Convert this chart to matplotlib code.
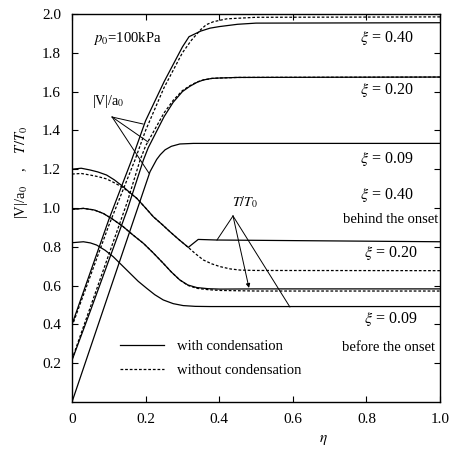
import matplotlib.pyplot as plt

plt.rcParams['font.family'] = ['Liberation Serif', 'DejaVu Serif']
plt.rcParams['mathtext.fontset'] = 'stix'

# velocity |V|/a0 profiles
v40_eta = [0, 0.05, 0.10, 0.162, 0.20, 0.25, 0.30, 0.318, 0.35, 0.375, 0.40, 0.45, 0.50, 1.0]
v40_with = [0.40, 0.67, 0.94, 1.247, 1.45, 1.65, 1.83, 1.883, 1.912, 1.927, 1.935, 1.947, 1.953, 1.955]
v40n_eta = [0, 0.05, 0.10, 0.171, 0.20, 0.25, 0.30, 0.325, 0.35, 0.365, 0.384, 0.42, 0.50, 1.0]
v40_without = [0.39, 0.65, 0.91, 1.247, 1.40, 1.62, 1.80, 1.866, 1.92, 1.945, 1.96, 1.975, 1.983, 1.985]

v20_eta = [0, 0.05, 0.10, 0.15, 0.194, 0.207, 0.25, 0.275, 0.30, 0.32, 0.34, 0.357, 0.38, 0.40, 0.45, 1.0]
v20_with = [0.215, 0.47, 0.73, 0.99, 1.247, 1.31, 1.47, 1.545, 1.60, 1.627, 1.648, 1.66, 1.668, 1.67, 1.673, 1.675]
v20n_eta = [0, 0.05, 0.10, 0.15, 0.185, 0.20, 0.25, 0.275, 0.30, 0.32, 0.34, 0.357, 0.38, 0.40, 0.45, 1.0]
v20_without = [0.22, 0.49, 0.76, 1.03, 1.247, 1.32, 1.49, 1.555, 1.605, 1.63, 1.65, 1.66, 1.668, 1.67, 1.673, 1.675]

v09_eta = [0, 0.05, 0.10, 0.15, 0.20, 0.212, 0.23, 0.24, 0.253, 0.27, 0.293, 0.33, 1.0]
v09_with = [0, 0.28, 0.56, 0.84, 1.12, 1.187, 1.25, 1.275, 1.30, 1.318, 1.33, 1.333, 1.333]

# temperature T/T0 profiles
t40_eta = [0, 0.025, 0.049, 0.07, 0.094, 0.115, 0.139, 0.157, 0.176, 0.20, 0.221, 0.245,
           0.266, 0.29, 0.316, 0.343, 0.393, 1.0]
t40_with = [1.20, 1.205, 1.196, 1.186, 1.17, 1.145, 1.11, 1.08, 1.05, 1.00, 0.955, 0.915,
            0.878, 0.838, 0.797, 0.838, 0.835, 0.826]
t40n_eta = [0, 0.025, 0.049, 0.07, 0.094, 0.115, 0.139, 0.157, 0.176, 0.20, 0.221, 0.245,
            0.266, 0.29, 0.316, 0.335, 0.357, 0.38, 0.402, 0.43, 0.457, 0.50, 1.0]
t40_without = [1.175, 1.178, 1.17, 1.162, 1.15, 1.13, 1.105, 1.078, 1.05, 1.00, 0.955, 0.915,
               0.878, 0.838, 0.797, 0.765, 0.732, 0.712, 0.698, 0.686, 0.680, 0.678, 0.677]

t20_eta = [0, 0.031, 0.06, 0.085, 0.11, 0.139, 0.165, 0.194, 0.22, 0.248, 0.27, 0.293,
           0.315, 0.339, 0.37, 0.402, 0.5, 1.0]
t20_with = [0.993, 0.998, 0.99, 0.972, 0.943, 0.904, 0.862, 0.818, 0.77, 0.715, 0.67, 0.629,
            0.603, 0.59, 0.584, 0.582, 0.583, 0.583]
t20_without = [0.993, 0.998, 0.99, 0.972, 0.943, 0.904, 0.862, 0.818, 0.77, 0.715, 0.67, 0.629,
               0.601, 0.586, 0.579, 0.575, 0.572, 0.572]

t09_eta = [0, 0.031, 0.05, 0.067, 0.09, 0.112, 0.135, 0.158, 0.18, 0.203, 0.225, 0.248,
           0.275, 0.302, 0.335, 0.375, 1.0]
t09_with = [0.821, 0.826, 0.82, 0.809, 0.782, 0.749, 0.706, 0.663, 0.622, 0.586, 0.553, 0.526,
            0.507, 0.497, 0.493, 0.492, 0.492]

xticks = [0, 0.2, 0.4, 0.6, 0.8, 1.0]
xtick_labels = ['0', '0.2', '0.4', '0.6', '0.8', '1.0']
yticks = [0.2, 0.4, 0.6, 0.8, 1.0, 1.2, 1.4, 1.6, 1.8, 2.0]

W, H = 458, 454
fig = plt.figure(figsize=(W / 100, H / 100), dpi=100)
ax = fig.add_axes([72 / W, 1 - 402 / H, 368 / W, 388 / H])

solid = dict(color='black', lw=0.9, ls='-')
dashed = dict(color='black', lw=0.9, ls=(0, (2.2, 1.5)))

ax.plot(v40_eta, v40_with, **solid, label='with condensation')
ax.plot(v40n_eta, v40_without, **dashed, label='without condensation')
ax.plot(v20_eta, v20_with, **solid)
ax.plot(v20n_eta, v20_without, **dashed)
ax.plot(v09_eta, v09_with, **solid)

ax.plot(t40_eta, t40_with, **solid)
ax.plot(t40n_eta, t40_without, **dashed)
ax.plot(t20_eta, t20_with, **solid)
ax.plot(t20_eta, t20_without, **dashed)
ax.plot(t09_eta, t09_with, **solid)

ax.set_xlim(0, 1.0)
ax.set_ylim(0, 2.0)
ax.set_xticks(xticks)
ax.set_xticklabels(xtick_labels)
ax.set_yticks(yticks)
ax.set_yticklabels([f'{t:.1f}' for t in yticks])
ax.tick_params(direction='in', length=4, width=0.8, top=True, right=True,
               labelsize=11, pad=8)
for s in ax.spines.values():
    s.set_linewidth(1.0)

# curve labels
fs = 11.5
for y, t in [(1.875, r'$\xi$ = 0.40'), (1.61, r'$\xi$ = 0.20'), (1.25, r'$\xi$ = 0.09'),
             (1.067, r'$\xi$ = 0.40')]:
    ax.text(0.928, y, t, ha='right', va='center', fontsize=fs)
ax.text(0.995, 0.94, 'behind the onset', ha='right', va='center', fontsize=10.5)
ax.text(0.94, 0.77, r'$\xi$ = 0.20', ha='right', va='center', fontsize=fs)
ax.text(0.94, 0.43, r'$\xi$ = 0.09', ha='right', va='center', fontsize=fs)
ax.text(0.986, 0.28, 'before the onset', ha='right', va='center', fontsize=10.5)

ax.text(0.057, 1.876, r'$p_0$=100kPa', ha='left', va='center', fontsize=10.6)
ax.text(0.054, 1.55, r'|V|/a$_0$', ha='left', va='center', fontsize=10)
ax.text(0.47, 1.03, r'$T/T_0$', ha='center', va='center', fontsize=10)

# pointer lines
v_apex = (0.109, 1.469)
for end in [(0.193, 1.433), (0.207, 1.34), (0.209, 1.18)]:
    ax.plot([v_apex[0], end[0]], [v_apex[1], end[1]], color='black', lw=0.7)
t_apex = (0.4375, 0.959)
for end in [(0.394, 0.835), (0.592, 0.49)]:
    ax.plot([t_apex[0], end[0]], [t_apex[1], end[1]], color='black', lw=0.7)
ax.annotate('', xy=(0.481, 0.588), xytext=t_apex,
            arrowprops=dict(arrowstyle='-|>', color='black', lw=0.7, mutation_scale=6,
                            shrinkA=0, shrinkB=0))

ax.legend(loc='center left', bbox_to_anchor=(0.13, 0.112), frameon=False, fontsize=10.5,
          handlelength=3.0, handletextpad=0.9, labelspacing=0.75, borderpad=0,
          borderaxespad=0)

fig.text(22 / W, 1 - 172 / H, r'|V|/a$_0$    ,    $T/T_0$', rotation=90,
         ha='center', va='center', fontsize=10.5)
fig.text(323 / W, 1 - 440 / H, r'$\eta$', ha='center', va='center', fontsize=11)

fig.savefig('out.png', dpi=100)
